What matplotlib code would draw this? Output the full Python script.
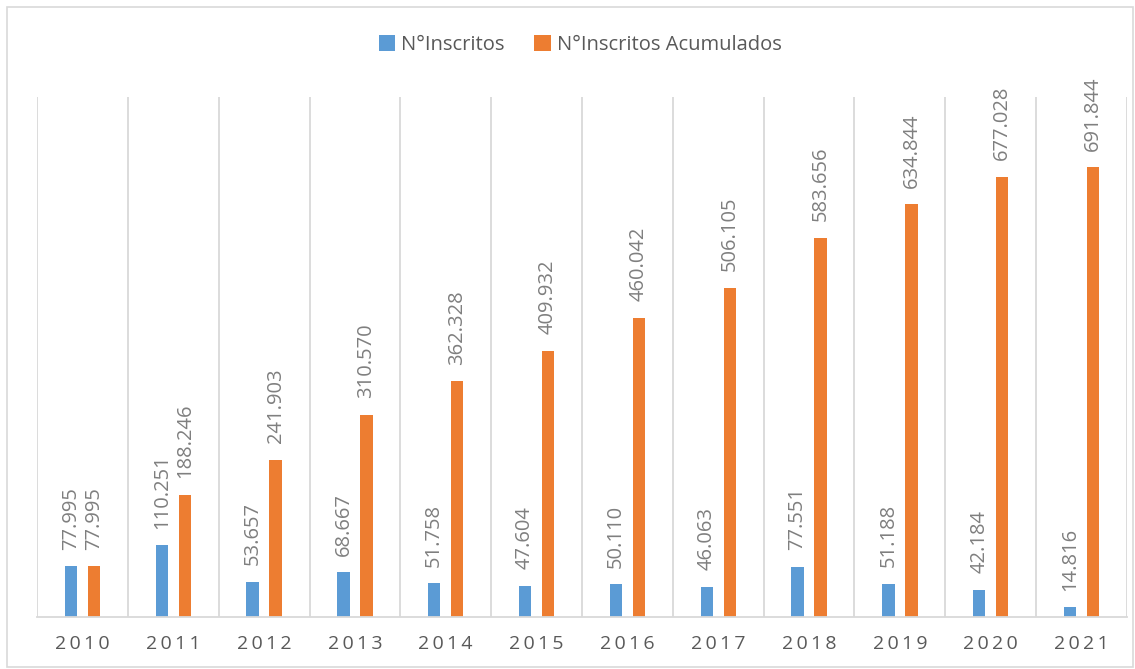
import matplotlib.pyplot as plt
import numpy as np
from matplotlib.patches import Rectangle

years = ['2010', '2011', '2012', '2013', '2014', '2015',
         '2016', '2017', '2018', '2019', '2020', '2021']
inscritos = [77995, 110251, 53657, 68667, 51758, 47604,
             50110, 46063, 77551, 51188, 42184, 14816]
acumulados = [77995, 188246, 241903, 310570, 362328, 409932,
              460042, 506105, 583656, 634844, 677028, 691844]
series_names = ['N°Inscritos', 'N°Inscritos Acumulados']

plt.rcParams['font.family'] = ['Open Sans', 'DejaVu Sans']

blue = '#5B9BD5'
orange = '#ED7D31'
grid_c = '#D9D9D9'

fig = plt.figure(figsize=(11.35, 6.69), dpi=100)
ax = fig.add_axes([37 / 1135, 1 - 617 / 669, 1090 / 1135, 520 / 669])

# outer frame
fig.patches.append(Rectangle((7 / 1135, 2 / 669), 1126 / 1135, 660 / 669,
                             transform=fig.transFigure, fill=False,
                             edgecolor=grid_c, linewidth=1.2))

x = np.arange(len(years))
w = 0.135
off = 0.127
b1 = ax.bar(x - off, inscritos, w, color=blue, label=series_names[0])
b2 = ax.bar(x + off, acumulados, w, color=orange, label=series_names[1])


def fmt(v):
    return f'{v:,}'.replace(',', '.')


for bars, vals in [(b1, inscritos), (b2, acumulados)]:
    for r, v in zip(bars, vals):
        ax.annotate(fmt(v), (r.get_x() + r.get_width() / 2, v),
                    xytext=(0, 12), textcoords='offset points',
                    rotation=90, ha='center', va='bottom',
                    fontsize=14.5, color='#7F7F7F')

ax.set_xlim(-0.5, len(years) - 0.5)
ax.set_ylim(0, 800000)
for b in np.arange(-0.5, len(years), 1.0):
    ax.axvline(b, color=grid_c, lw=1.3, zorder=0)

for s in ['top', 'right', 'left']:
    ax.spines[s].set_visible(False)
ax.spines['bottom'].set_color(grid_c)
ax.spines['bottom'].set_linewidth(1.3)
ax.set_yticks([])
ax.set_xticks(x)
ax.set_xticklabels(['\u2009'.join(y) for y in years], fontsize=14,
                   color='#595959')
ax.tick_params(axis='x', length=0, pad=13)

fig.legend(handles=[b1, b2], labels=series_names, loc='center',
           bbox_to_anchor=(580 / 1135, 1 - 45 / 669), ncol=2,
           frameon=False, fontsize=14.5, labelcolor='#595959',
           handlelength=0.8, handleheight=0.8, columnspacing=1.5,
           handletextpad=0.3)

plt.savefig('out.png', dpi=100)
